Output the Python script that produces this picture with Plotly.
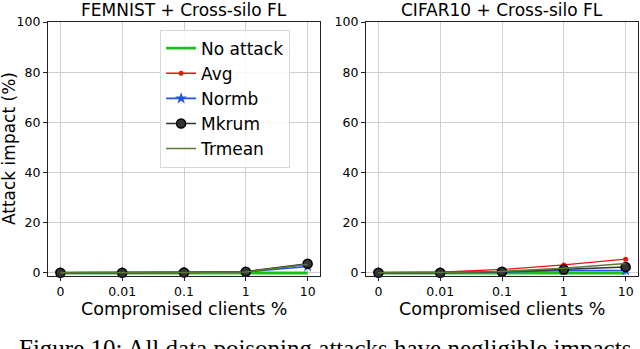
import plotly.graph_objects as go

# DATA ===================================================== #
x_labels = ['0', '0.01', '0.1', '1', '10']
methods = ['No attack', 'Avg', 'Normb', 'Mkrum', 'Trmean']

femnist = {
    'No attack': [0, 0, 0, 0, 0],
    'Avg': [0.1, 0.1, 0.2, 0.5, 3.4],
    'Normb': [0.1, 0.1, 0.3, 0.4, 2.6],
    'Mkrum': [0.1, 0.1, 0.2, 0.5, 3.7],
    'Trmean': [0.1, 0.1, 0.2, 0.4, 3.5],
}
cifar10 = {
    'No attack': [0, 0, 0, 0, 0],
    'Avg': [0.1, 0.3, 1.4, 3.2, 5.5],
    'Normb': [0.1, 0.1, 0.3, 1.0, 1.0],
    'Mkrum': [0.1, 0.1, 0.5, 1.4, 2.4],
    'Trmean': [0.1, 0.2, 0.6, 1.9, 3.8],
}

# STYLES =================================================== #
styles = {
    'No attack': dict(color='#1cc01c', width=2.8, marker=None),
    'Avg': dict(color='#f01010', width=1.3, marker=dict(symbol='circle', size=5)),
    'Normb': dict(color='#1f55e0', width=1.6, marker=dict(symbol='star', size=9)),
    'Mkrum': dict(color='#333333', width=1.6,
                  marker=dict(symbol='circle', size=9, color='#333333',
                              line=dict(color='#000000', width=1.5))),
    'Trmean': dict(color='#5a7a34', width=1.6, marker=None),
}

fig = go.Figure()

for data, xa, ya, show in [(femnist, 'x', 'y', True), (cifar10, 'x2', 'y2', False)]:
    for m in methods:
        s = styles[m]
        mode = 'lines+markers' if s['marker'] else 'lines'
        fig.add_trace(go.Scatter(
            x=list(range(len(x_labels))), y=data[m], name=m, mode=mode,
            line=dict(color=s['color'], width=s['width']),
            marker=s['marker'] if s['marker'] else None,
            xaxis=xa, yaxis=ya, showlegend=show, cliponaxis=False,
        ))

axis_common = dict(
    showline=True, linecolor='#222222', linewidth=1.3, mirror=True,
    showgrid=True, gridcolor='#d0d0d0', gridwidth=1,
    ticks='outside', ticklen=4, tickcolor='#222222',
    tickfont=dict(family='DejaVu Sans', size=12.5, color='#000000'),
    zeroline=False,
)

fig.update_layout(
    width=640, height=349,
    margin=dict(l=48, r=2, t=22, b=73),
    plot_bgcolor='white', paper_bgcolor='white',
    font=dict(family='DejaVu Sans', color='#000000'),
    xaxis=dict(domain=[0, 0.461], range=[-0.2, 4.2], tickvals=list(range(5)),
               ticktext=x_labels, **axis_common),
    xaxis2=dict(domain=[0.539, 1], range=[-0.2, 4.2], tickvals=list(range(5)),
                ticktext=x_labels, anchor='y2', **axis_common),
    yaxis=dict(range=[-1.2, 100], tickvals=[0, 20, 40, 60, 80, 100], **axis_common),
    yaxis2=dict(range=[-1.2, 100], tickvals=[0, 20, 40, 60, 80, 100], anchor='x2',
                **axis_common),
    legend=dict(x=0.19, y=0.97, xanchor='left', yanchor='top',
                font=dict(family='DejaVu Sans', size=17),
                bgcolor='rgba(255,255,255,0.85)', bordercolor='#d8d8d8', borderwidth=1,
                tracegroupgap=0),
    showlegend=True,
)

annotations = [
    dict(text='FEMNIST + Cross-silo FL', x=0.2305, y=1.047, xref='paper', yref='paper',
         showarrow=False, font=dict(size=17), xanchor='center', yanchor='middle'),
    dict(text='CIFAR10 + Cross-silo FL', x=0.7695, y=1.047, xref='paper', yref='paper',
         showarrow=False, font=dict(size=17), xanchor='center', yanchor='middle'),
    dict(text='Compromised clients %', x=0.2305, y=-0.13, xref='paper', yref='paper',
         showarrow=False, font=dict(size=17.5), xanchor='center', yanchor='middle'),
    dict(text='Compromised clients %', x=0.7695, y=-0.13, xref='paper', yref='paper',
         showarrow=False, font=dict(size=17.5), xanchor='center', yanchor='middle'),
    dict(text='Attack impact (%)', x=-0.066, y=0.5, xref='paper', yref='paper',
         showarrow=False, font=dict(size=17), textangle=-90,
         xanchor='center', yanchor='middle'),
    dict(text='Figure 10: All data poisoning attacks have negligible impacts',
         x=-0.053, y=-0.225, xref='paper', yref='paper', showarrow=False,
         font=dict(family='Liberation Serif', size=25), xanchor='left', yanchor='top'),
]
fig.update_layout(annotations=annotations)

fig.write_html("out.html", config={'displayModeBar': False},
               post_script="document.body.style.margin='0';document.body.style.overflow='hidden';")
